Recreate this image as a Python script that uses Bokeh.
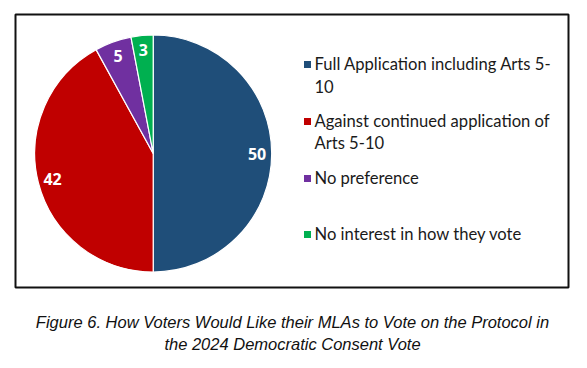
import math
from bokeh.plotting import figure
from bokeh.models import Range1d, ColumnDataSource, BoxAnnotation
from bokeh.core.properties import value
from bokeh.embed import file_html
from bokeh.resources import INLINE

# ---- data ----
categories = ["Full Application including Arts 5-10",
              "Against continued application of Arts 5-10",
              "No preference",
              "No interest in how they vote"]
legend_lines = [["Full Application including Arts 5-", "10"],
                ["Against continued application of", "Arts 5-10"],
                ["No preference"],
                ["No interest in how they vote"]]
values = [50, 42, 5, 3]
colors = ["#1F4E79", "#C00000", "#7030A0", "#00B050"]
caption = ["Figure 6. How Voters Would Like their MLAs to Vote on the Protocol in",
           "the 2024 Democratic Consent Vote"]

W, H = 571, 352
def sy(y):  # screen y (page px) -> data y
    return 368 - y

p = figure(width=W, height=H, output_backend="svg", toolbar_location=None,
           x_range=Range1d(0, W), y_range=Range1d(368 - H, 368),
           min_border=0, outline_line_color=None)
p.axis.visible = False
p.grid.visible = False
p.background_fill_color = "white"

# frame box
p.add_layout(BoxAnnotation(left=15, right=568, bottom=sy(287), top=sy(14),
                           fill_alpha=0, line_color="#111111", line_alpha=1,
                           line_width=2))

# pie
cx, cy, r = 152.7, sy(153), 118.5
total = sum(values)
starts, ends, mids = [], [], []
cum = 0
for v in values:
    a0 = math.pi / 2 - 2 * math.pi * cum / total
    cum += v
    a1 = math.pi / 2 - 2 * math.pi * cum / total
    starts.append(a0); ends.append(a1); mids.append((a0 + a1) / 2)
src = ColumnDataSource(dict(start=starts, end=ends, color=colors))
p.wedge(x=cx, y=cy, radius=r, start_angle="start", end_angle="end",
        direction="clock", fill_color="color", line_color="white",
        line_width=1.2, source=src)

lr = r * 0.877
p.text(x=[cx + lr * math.cos(m) for m in mids],
       y=[cy + lr * math.sin(m) for m in mids],
       text=[str(v) for v in values], text_color="white",
       text_font=value("Open Sans"), text_font_style="bold",
       text_font_size="16px", text_align="center", text_baseline="middle")

# legend
entry_y = [63, 120, 177, 233]
lx, tx, lh = 307, 314, 22.5
for i, lines in enumerate(legend_lines):
    y0 = entry_y[i]
    p.rect(x=[lx], y=[sy(y0 + 1)], width=7, height=7, fill_color=colors[i],
           line_color=None)
    p.text(x=[tx] * len(lines), y=[sy(y0 + k * lh) for k in range(len(lines))],
           text=lines, text_color="#1a1a1a", text_font=value("Lato"),
           text_font_size="16.6px", text_baseline="middle", text_align="left")

# caption
p.text(x=[292, 292], y=[sy(321), sy(343)], text=caption, text_color="#111111",
       text_font=value("Liberation Sans"), text_font_style="italic",
       text_font_size="16.5px", text_align="center", text_baseline="middle")

open("out.html", "w").write(file_html(p, INLINE))
